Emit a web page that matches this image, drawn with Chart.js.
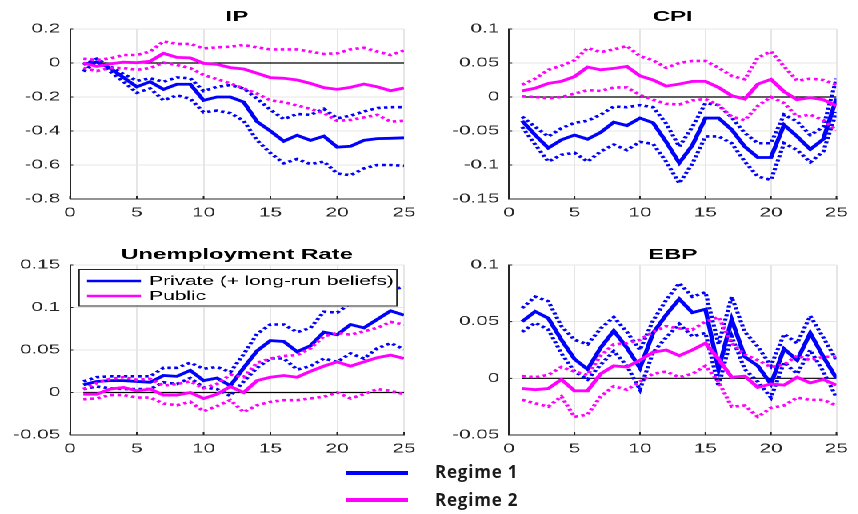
<!DOCTYPE html>
<html>
<head>
<meta charset="utf-8">
<script src="https://cdn.jsdelivr.net/npm/chart.js@4.4.1/dist/chart.umd.min.js"></script>
<style>
  html, body { margin: 0; padding: 0; background: #fff; width: 858px; height: 514px; overflow: hidden; }
  /* the four panels are laid out on a narrower sheet that is widened horizontally */
  #sheet { position: absolute; left: 0; top: 0; width: 536.25px; height: 514px; transform: scaleX(1.6); transform-origin: 0 0; }
  #sheet canvas { position: absolute; }
  .swatch { position: absolute; left: 346px; width: 62px; height: 4px; }
  .key { position: absolute; left: 435px; font: 700 17px "Open Sans", "Liberation Sans", sans-serif; color: #1b1b1b; letter-spacing: 0.8px; line-height: 20px; white-space: nowrap; }
</style>
</head>
<body>
<div id="sheet">
  <canvas id="cIP"  width="268" height="230" style="left:0;top:0"></canvas>
  <canvas id="cCPI" width="268" height="230" style="left:268px;top:0"></canvas>
  <canvas id="cUR"  width="268" height="236" style="left:0;top:230px"></canvas>
  <canvas id="cEBP" width="268" height="236" style="left:268px;top:230px"></canvas>
</div>
<div class="swatch" style="top:471px;background:#0000ff"></div>
<div class="key" style="top:462px">Regime 1</div>
<div class="swatch" style="top:498px;background:#ff00ff"></div>
<div class="key" style="top:490px">Regime 2</div>

<script>
// Impulse-response horizon (months)
const horizon = [1, 2, 3, 4, 5, 6, 7, 8, 9, 10, 11, 12, 13, 14, 15, 16, 17, 18, 19, 20, 21, 22, 23, 24, 25];
const xTicks = [0, 5, 10, 15, 20, 25];

// Industrial production
const ipTicks = [-0.8, -0.6, -0.4, -0.2, 0, 0.2];
const ipPrivate   = [-0.005, 0.005, -0.03, -0.085, -0.14, -0.11, -0.155, -0.125, -0.125, -0.22, -0.2, -0.2, -0.23, -0.345, -0.4, -0.46, -0.425, -0.455, -0.43, -0.495, -0.49, -0.455, -0.445, -0.443, -0.44];
const ipPrivateUp = [-0.01, 0.025, -0.02, -0.065, -0.105, -0.09, -0.11, -0.085, -0.09, -0.165, -0.14, -0.13, -0.15, -0.21, -0.275, -0.33, -0.3, -0.305, -0.27, -0.325, -0.31, -0.285, -0.265, -0.26, -0.26];
const ipPrivateLo = [-0.05, 0.01, -0.05, -0.11, -0.175, -0.15, -0.22, -0.19, -0.21, -0.29, -0.28, -0.295, -0.34, -0.455, -0.53, -0.59, -0.565, -0.595, -0.58, -0.65, -0.66, -0.62, -0.6, -0.6, -0.605];
const ipPublic    = [0, -0.02, -0.005, 0.005, 0.002, 0.01, 0.057, 0.033, 0.03, -0.002, -0.008, -0.027, -0.035, -0.06, -0.086, -0.09, -0.1, -0.12, -0.145, -0.155, -0.143, -0.124, -0.14, -0.163, -0.147];
const ipPublicUp  = [0.025, 0.018, 0.027, 0.047, 0.047, 0.067, 0.127, 0.112, 0.112, 0.086, 0.092, 0.096, 0.106, 0.092, 0.08, 0.08, 0.08, 0.067, 0.053, 0.057, 0.08, 0.09, 0.067, 0.047, 0.073];
const ipPublicLo  = [-0.03, -0.047, -0.03, -0.03, -0.04, -0.03, 0.002, -0.012, -0.03, -0.07, -0.095, -0.12, -0.15, -0.18, -0.22, -0.23, -0.25, -0.27, -0.295, -0.34, -0.335, -0.32, -0.305, -0.345, -0.34];

// Consumer prices
const cpiTicks = [-0.15, -0.1, -0.05, 0, 0.05, 0.1];
const cpiPrivate   = [-0.035, -0.056, -0.075, -0.063, -0.056, -0.062, -0.052, -0.037, -0.042, -0.031, -0.038, -0.066, -0.097, -0.071, -0.031, -0.031, -0.048, -0.073, -0.089, -0.089, -0.041, -0.058, -0.077, -0.062, -0.002];
const cpiPrivateUp = [-0.029, -0.044, -0.058, -0.046, -0.038, -0.035, -0.026, -0.014, -0.015, -0.012, -0.015, -0.039, -0.073, -0.044, -0.009, -0.012, -0.03, -0.053, -0.068, -0.068, -0.026, -0.036, -0.056, -0.044, 0.027];
const cpiPrivateLo = [-0.044, -0.07, -0.095, -0.085, -0.082, -0.095, -0.08, -0.07, -0.078, -0.066, -0.069, -0.095, -0.127, -0.098, -0.058, -0.058, -0.068, -0.095, -0.117, -0.122, -0.068, -0.078, -0.096, -0.08, -0.022];
const cpiPublic    = [0.009, 0.013, 0.02, 0.023, 0.03, 0.044, 0.04, 0.042, 0.045, 0.031, 0.025, 0.016, 0.019, 0.023, 0.023, 0.014, 0.002, -0.003, 0.019, 0.026, 0.008, -0.004, -0.001, -0.004, -0.013];
const cpiPublicUp  = [0.018, 0.027, 0.04, 0.046, 0.054, 0.072, 0.066, 0.07, 0.075, 0.06, 0.054, 0.043, 0.05, 0.053, 0.053, 0.043, 0.031, 0.026, 0.058, 0.067, 0.045, 0.024, 0.027, 0.025, 0.018];
const cpiPublicLo  = [0.001, 0, -0.002, 0, 0.005, 0.01, 0.009, 0.014, 0.014, 0.003, -0.004, -0.01, -0.011, -0.005, -0.003, -0.012, -0.029, -0.034, -0.013, 0, -0.009, -0.029, -0.026, -0.034, -0.049];

// Unemployment rate
const urTicks = [-0.05, 0, 0.05, 0.1, 0.15];
const urPrivate   = [0.009, 0.013, 0.014, 0.014, 0.013, 0.012, 0.02, 0.019, 0.026, 0.014, 0.017, 0.008, 0.029, 0.049, 0.061, 0.06, 0.048, 0.055, 0.071, 0.068, 0.08, 0.076, 0.086, 0.096, 0.091];
const urPrivateUp = [0.013, 0.018, 0.019, 0.019, 0.019, 0.019, 0.029, 0.029, 0.035, 0.028, 0.03, 0.024, 0.045, 0.069, 0.08, 0.08, 0.071, 0.076, 0.095, 0.094, 0.105, 0.103, 0.109, 0.121, 0.124];
const urPrivateLo = [0.004, 0.007, 0.005, 0.004, 0.004, 0.004, 0.012, 0.01, 0.017, 0.006, 0.004, -0.004, 0.013, 0.029, 0.04, 0.04, 0.027, 0.031, 0.04, 0.036, 0.046, 0.04, 0.052, 0.058, 0.051];
const urPublic    = [-0.002, -0.002, 0.004, 0.006, 0.002, 0.004, -0.003, -0.003, 0, -0.007, -0.002, 0.007, 0, 0.014, 0.018, 0.02, 0.018, 0.025, 0.031, 0.036, 0.031, 0.036, 0.041, 0.044, 0.04];
const urPublicUp  = [0.004, 0.011, 0.016, 0.018, 0.015, 0.016, 0.008, 0.01, 0.013, 0.005, 0.01, 0.021, 0.018, 0.035, 0.04, 0.043, 0.044, 0.052, 0.066, 0.07, 0.068, 0.072, 0.076, 0.083, 0.08];
const urPublicLo  = [-0.008, -0.007, -0.003, -0.003, -0.006, -0.006, -0.013, -0.015, -0.011, -0.022, -0.016, -0.009, -0.023, -0.015, -0.011, -0.009, -0.009, -0.007, -0.005, 0, -0.007, -0.002, 0.004, 0.002, -0.002];

// Excess bond premium
const ebpTicks = [-0.05, 0, 0.05, 0.1];
const ebpPrivate   = [0.05, 0.059, 0.053, 0.034, 0.017, 0.008, 0.027, 0.042, 0.027, 0.009, 0.04, 0.056, 0.07, 0.058, 0.061, 0.008, 0.052, 0.019, 0.011, -0.005, 0.026, 0.016, 0.04, 0.019, 0];
const ebpPrivateUp = [0.062, 0.072, 0.068, 0.046, 0.034, 0.03, 0.044, 0.054, 0.041, 0.025, 0.051, 0.069, 0.084, 0.072, 0.076, 0.03, 0.072, 0.041, 0.028, 0.011, 0.039, 0.031, 0.055, 0.036, 0.016];
const ebpPrivateLo = [0.041, 0.049, 0.043, 0.022, 0.006, -0.001, 0.012, 0.024, 0.011, -0.01, 0.023, 0.036, 0.048, 0.037, 0.04, -0.007, 0.037, 0.008, -0.003, -0.017, 0.014, 0.004, 0.025, 0.006, -0.017];
const ebpPublic    = [-0.009, -0.01, -0.009, -0.001, -0.011, -0.011, 0.004, 0.011, 0.01, 0.016, 0.023, 0.025, 0.02, 0.025, 0.031, 0.017, 0.001, 0.002, -0.008, -0.005, -0.006, 0.001, -0.004, -0.001, -0.006];
const ebpPublicUp  = [0.002, 0.001, 0.003, 0.01, 0.006, 0.003, 0.02, 0.03, 0.031, 0.034, 0.041, 0.046, 0.044, 0.043, 0.05, 0.054, 0.031, 0.021, 0.016, 0.01, 0.012, 0.02, 0.016, 0.019, 0.019];
const ebpPublicLo  = [-0.019, -0.022, -0.025, -0.016, -0.034, -0.032, -0.016, -0.007, -0.01, -0.003, 0.004, 0.006, 0.001, 0.004, 0.011, -0.003, -0.025, -0.024, -0.034, -0.026, -0.024, -0.017, -0.019, -0.019, -0.024];

const BLUE = '#0000ff';
const MAGENTA = '#ff00ff';
const AXIS = '#262626';
const GRID = '#e6e6e6';
const FONT = '"Liberation Sans", Arial, sans-serif';

const points = vals => vals.map((v, i) => ({ x: horizon[i], y: v }));

const solidLine = (label, vals, color) => ({
  label, data: points(vals), borderColor: color, borderWidth: 2.8,
  pointRadius: 0, tension: 0, fill: false
});
const dottedLine = (label, vals, color) => ({
  label, data: points(vals), borderColor: color, borderWidth: 2.6, borderDash: [2.2, 2.2],
  pointRadius: 0, tension: 0, fill: false
});

const fmt = v => (Math.abs(v) < 1e-12 ? '0' : String(v));

// Title drawn above each plot area
const titlePlugin = {
  id: 'panelTitle',
  afterDraw(chart, args, opts) {
    const { ctx, chartArea } = chart;
    ctx.save();
    ctx.font = 'bold 15px ' + FONT;
    ctx.fillStyle = '#000';
    ctx.textAlign = 'center';
    ctx.textBaseline = 'alphabetic';
    ctx.fillText(opts.text, (chartArea.left + chartArea.right) / 2, opts.y);
    ctx.restore();
  }
};

// Short inward tick marks on the left and bottom axes
const innerTicks = {
  id: 'innerTicks',
  afterDraw(chart) {
    const { ctx, chartArea, scales } = chart;
    ctx.save();
    ctx.strokeStyle = AXIS;
    ctx.lineWidth = 1;
    ctx.beginPath();
    scales.x.ticks.forEach(t => {
      const px = scales.x.getPixelForValue(t.value);
      ctx.moveTo(px, chartArea.bottom);
      ctx.lineTo(px, chartArea.bottom - 3);
    });
    scales.y.ticks.forEach(t => {
      const py = scales.y.getPixelForValue(t.value);
      ctx.moveTo(chartArea.left, py);
      ctx.lineTo(chartArea.left + 2, py);
    });
    ctx.stroke();
    ctx.restore();
  }
};

// Boxed key inside the unemployment panel
const boxedKey = {
  id: 'boxedKey',
  afterDraw(chart, args, opts) {
    if (!opts.show) return;
    const { ctx } = chart;
    ctx.save();
    ctx.fillStyle = '#fff';
    ctx.fillRect(49.4, 39, 198.7, 37);
    ctx.strokeStyle = AXIS;
    ctx.lineWidth = 1;
    ctx.strokeRect(49.4, 39.5, 198.7, 36.5);
    const rows = [['Private (+ long-run beliefs)', BLUE, 51], ['Public', MAGENTA, 66]];
    rows.forEach(([label, color, y]) => {
      ctx.strokeStyle = color;
      ctx.lineWidth = 2.6;
      ctx.beginPath();
      ctx.moveTo(54.4, y);
      ctx.lineTo(88.1, y);
      ctx.stroke();
      ctx.fillStyle = '#000';
      ctx.font = '13px ' + FONT;
      ctx.textAlign = 'left';
      ctx.textBaseline = 'middle';
      ctx.fillText(label, 93.3, y + 0.5);
    });
    ctx.restore();
  }
};

function makePanel(id, title, yTicks, s, g) {
  const zero = {
    label: 'zero', data: [{ x: horizon[0], y: 0 }, { x: horizon[horizon.length - 1], y: 0 }],
    borderColor: '#000', borderWidth: 1.2, pointRadius: 0, fill: false
  };
  const datasets = [
    solidLine('Public', s.pub, MAGENTA),
    dottedLine('Public upper', s.pubUp, MAGENTA),
    dottedLine('Public lower', s.pubLo, MAGENTA),
    solidLine('Private', s.priv, BLUE),
    dottedLine('Private upper', s.privUp, BLUE),
    dottedLine('Private lower', s.privLo, BLUE),
    zero
  ];
  const tickFont = { family: FONT, size: 13 };
  new Chart(document.getElementById(id), {
    type: 'line',
    data: { datasets },
    options: {
      responsive: false,
      animation: false,
      devicePixelRatio: 2,
      layout: { padding: { left: 0, right: g.padRight, top: g.padTop, bottom: 0 } },
      plugins: {
        legend: { display: false },
        tooltip: { enabled: false },
        panelTitle: { text: title, y: g.titleY },
        boxedKey: { show: !!g.key }
      },
      scales: {
        x: {
          type: 'linear', min: 0, max: 25,
          afterBuildTicks: sc => { sc.ticks = xTicks.map(v => ({ value: v })); },
          afterFit: sc => { sc.height = g.xAxisH; },
          ticks: { font: tickFont, color: AXIS, padding: 6, maxRotation: 0, autoSkip: false, callback: v => fmt(v) },
          grid: { color: GRID, drawTicks: false, lineWidth: 1 },
          border: { display: true, color: AXIS, width: 1 }
        },
        y: {
          type: 'linear', min: yTicks[0], max: yTicks[yTicks.length - 1],
          afterBuildTicks: sc => { sc.ticks = yTicks.map(v => ({ value: v })); },
          afterFit: sc => { sc.width = g.yAxisW; },
          ticks: { font: tickFont, color: AXIS, padding: 6, autoSkip: false, callback: v => fmt(v) },
          grid: { color: GRID, drawTicks: false, lineWidth: 1 },
          border: { display: true, color: AXIS, width: 1 }
        }
      }
    },
    plugins: [titlePlugin, innerTicks, boxedKey]
  });
}

const leftGeom  = { yAxisW: 43.75, padRight: 15.5 };
const rightGeom = { yAxisW: 50.125, padRight: 8.5 };

makePanel('cIP', 'IP', ipTicks,
  { priv: ipPrivate, privUp: ipPrivateUp, privLo: ipPrivateLo, pub: ipPublic, pubUp: ipPublicUp, pubLo: ipPublicLo },
  Object.assign({ padTop: 29, xAxisH: 31, titleY: 21 }, leftGeom));

makePanel('cCPI', 'CPI', cpiTicks,
  { priv: cpiPrivate, privUp: cpiPrivateUp, privLo: cpiPrivateLo, pub: cpiPublic, pubUp: cpiPublicUp, pubLo: cpiPublicLo },
  Object.assign({ padTop: 29, xAxisH: 31, titleY: 21 }, rightGeom));

makePanel('cUR', 'Unemployment Rate', urTicks,
  { priv: urPrivate, privUp: urPrivateUp, privLo: urPrivateLo, pub: urPublic, pubUp: urPublicUp, pubLo: urPublicLo },
  Object.assign({ padTop: 35, xAxisH: 31, titleY: 29, key: true }, leftGeom));

makePanel('cEBP', 'EBP', ebpTicks,
  { priv: ebpPrivate, privUp: ebpPrivateUp, privLo: ebpPrivateLo, pub: ebpPublic, pubUp: ebpPublicUp, pubLo: ebpPublicLo },
  Object.assign({ padTop: 35, xAxisH: 31, titleY: 29 }, rightGeom));
</script>
</body>
</html>
